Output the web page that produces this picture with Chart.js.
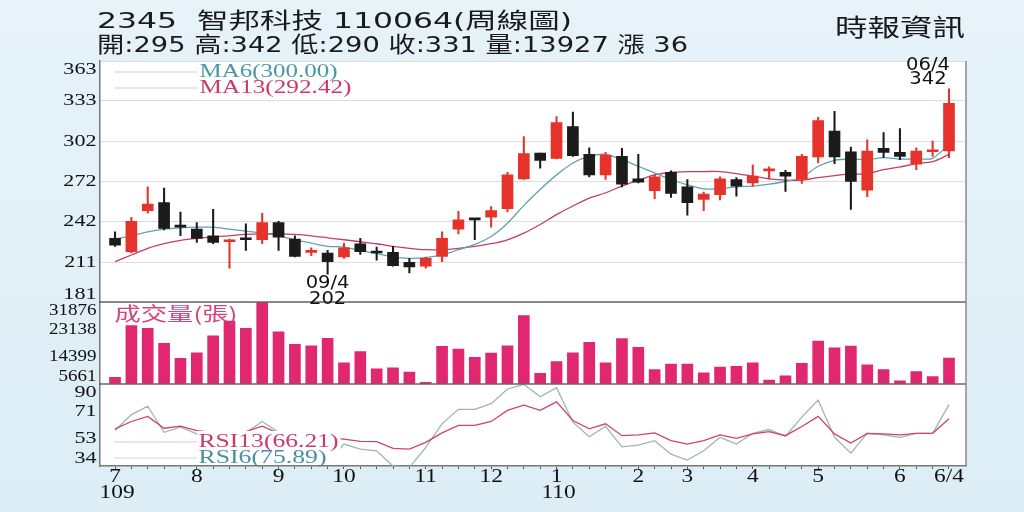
<!DOCTYPE html>
<html>
<head>
<meta charset="utf-8">
<script src="https://cdn.jsdelivr.net/npm/chart.js@4.4.1/dist/chart.umd.min.js"></script>
<style>
  html, body { margin: 0; padding: 0; background: #e3f0f7; }
  #wrap { width: 1024px; height: 512px; }
  canvas { display: block; }
</style>
</head>
<body>
<div id="wrap"><canvas id="kchart" width="1024" height="512"></canvas></div>
<script>
// weekly candles, 109/7 .. 110/6/4 (52 weeks)
const open  = [229, 219, 250, 256, 238, 236, 231, 226.5, 228.5, 228, 241, 228.5, 218.5, 218, 215, 225, 218.5, 218.5, 211, 208,
               215.5, 236, 243.5, 245, 251.5, 274, 293.5, 289.5, 313.5, 292.5, 277, 291, 274, 265, 279, 268, 258.5, 262, 273.5, 271,
               280, 279, 273.5, 290.5, 310, 294.5, 265.5, 297, 294, 285, 294.5, 295];
const high  = [234, 245, 268, 267, 249, 241, 251, 228.5, 240, 248, 242, 231, 222, 220, 225.5, 229, 222.5, 223, 214, 215,
               234, 249.5, 243.5, 253, 279, 306, 293.5, 321, 324.5, 297.5, 294, 297, 292.5, 277.5, 280, 273.5, 264, 275.5, 275, 284.5,
               283, 280.5, 292.5, 320.5, 325, 298, 303.5, 309, 312, 297.5, 302.5, 342];
const low   = [223, 218, 248, 235.5, 231, 226, 225, 206.5, 220, 225, 220, 215, 216, 202, 214, 217, 212.5, 208, 203, 206.5,
               211.5, 232.5, 228, 237.5, 249, 273.5, 282, 289, 291, 275.5, 273.5, 268, 271, 259, 260, 246.5, 250, 258, 261, 268.5,
               274, 264.5, 270.5, 286, 285.5, 251, 260.5, 290, 288.5, 281, 291, 290];
const close = [224, 242, 255, 236.5, 237.5, 229, 226, 228, 228, 241, 230, 215.5, 219, 211.5, 222, 219, 218, 208.5, 207.5, 214,
               229, 243, 243, 250, 277, 293, 288, 316.5, 291.5, 277, 292, 270, 271.5, 275.5, 263, 256, 262.5, 274, 268.5, 276,
               280.5, 276, 291, 318, 290.5, 272, 295, 294, 291, 295, 295, 331];
const volume = [7800, 24300, 23450, 18650, 13900, 15650, 21100, 25800, 23450, 31800, 22300, 18350, 17900, 20250, 12450, 16000, 10550, 10850, 9500, 6200,
                17700, 16850, 14200, 15550, 17900, 27500, 9100, 12800, 15650, 19000, 12450, 20150, 17400, 10250, 12050, 12050, 9250, 11100, 11300, 12450,
                6950, 8300, 12300, 19400, 17250, 17800, 11750, 10250, 6700, 9600, 8000, 13927];
const ma6   = [228.5, 231, 234, 236, 237, 237.5, 237.5, 236, 234.5, 233, 231, 228, 225.5, 223, 222.5, 220, 217.5, 215, 214, 214.5,
               216.5, 220.5, 224.5, 230.5, 240.5, 254, 266, 277, 286, 291, 292.5, 288.5, 283.5, 278.5, 273.5, 269.5, 266.5, 266.5, 268, 268.5,
               270, 272, 275, 283.5, 288, 289, 288.5, 290, 289, 289, 289.5, 300.00];
const ma13  = [211.5, 216.5, 221.5, 225, 227.5, 229, 230, 231, 232, 232.5, 232.5, 232, 231, 229.5, 228, 226.5, 225, 223, 221.5, 220.5,
               220.5, 221.5, 223, 225, 228, 233, 239.5, 247, 253.5, 259.5, 263.5, 268.5, 273, 277, 279, 279.5, 279.5, 279.5, 278, 276,
               274, 273, 273, 275, 276.5, 277.5, 278, 281, 283, 285.5, 287, 292.42];
const rsi13 = [59.4, 64.4, 67.9, 59.8, 61.2, 58.2, 57, 57.5, 57.5, 61.2, 56.3, 55, 54, 53.5, 52.4, 50.8, 50.6, 46, 45.5, 50.1,
               56.6, 61.7, 61.7, 64.4, 72, 75.5, 72, 77.8, 65.1, 59.4, 62.8, 54.7, 55.2, 56.6, 51.3, 49, 51.3, 55.2, 52.9, 55.9,
               57.5, 54.7, 61, 67.9, 55.9, 49.7, 56.3, 55.9, 55.2, 56.3, 56.3, 66.21];
const rsi6  = [58.2, 69.1, 74.8, 57, 60.5, 55.9, 53.6, 56.6, 56.6, 64.4, 57, 45, 38, 36.3, 49, 45.5, 44.4, 34, 33, 46.7,
               62.8, 72.7, 72.7, 76.6, 86.6, 89.8, 81.3, 87.5, 63.9, 54, 61, 47.1, 48.3, 51.3, 42.1, 38.1, 44.4, 53.6, 49, 56.3,
               58.9, 54.3, 67.4, 79, 53.6, 42.8, 56.3, 55.2, 53.6, 56.3, 56.3, 75.89];

const priceTicks  = [181, 211, 242, 272, 302, 333, 363];
const volumeTicks = [5661, 14399, 23138, 31876];
const rsiTicks    = [34, 53, 71, 90];

const monthWeeks  = [0, 5, 10, 14, 19, 23, 27, 32, 35, 39, 43, 48, 51];
const monthLabels = ["7", "8", "9", "10", "11", "12", "1", "2", "3", "4", "5", "6", "6/4"];
const yearWeeks   = [0, 27];
const yearLabels  = ["109", "110"];

const lowMark  = { week: 13, date: "09/4", value: 202 };
const highMark = { week: 51, date: "06/4", value: 342 };

const stockTitle = "2345  智邦科技 110064(周線圖)";
const sourceName = "時報資訊";

const RED = "#e5322a";
const BLACK = "#1b1b1b";
const TEAL = "#5fa3b0";
const CRIMSON = "#c73d68";
const VOL = "#e0276f";

const weeks = open.map((_, i) => i);
const last = weeks.length - 1;
const candleColors = weeks.map((i) => (close[i] >= open[i] ? RED : BLACK));

function txt(c, s, x, y, font, color, align, sx) {
  c.save();
  c.font = font;
  c.fillStyle = color;
  c.textAlign = align || "left";
  c.textBaseline = "middle";
  c.translate(x, y);
  c.scale(sx || 1, 1);
  c.fillText(s, 0, 0);
  c.restore();
}

function fitTxt(c, s, x, y, font, color, width) {
  c.save();
  c.font = font;
  const w = c.measureText(s).width;
  c.restore();
  txt(c, s, x, y, font, color, "left", width / w);
}

function hline(c, x1, x2, y, color, w) {
  c.save();
  c.strokeStyle = color;
  c.lineWidth = w || 1;
  c.beginPath();
  c.moveTo(x1, y);
  c.lineTo(x2, y);
  c.stroke();
  c.restore();
}

function axisLabels(c, scale, values, sx) {
  values.forEach((v) => {
    let y = scale.getPixelForValue(v);
    y = Math.max(scale.top + 8.5, Math.min(scale.bottom - 7.5, y));
    txt(c, String(v), scale.right - 3, y, '17px "Liberation Serif"', "#111", "right", sx);
  });
}

const decor = {
  id: "decor",
  beforeDraw(chart) {
    const c = chart.ctx;
    const a = chart.chartArea;
    c.save();
    const g = c.createLinearGradient(0, 0, 0, chart.height);
    g.addColorStop(0, "#e7f2f9");
    g.addColorStop(1, "#dcedf5");
    c.fillStyle = g;
    c.fillRect(0, 0, chart.width, chart.height);
    c.fillStyle = "#ffffff";
    c.fillRect(a.left, a.top, a.right - a.left, a.bottom - a.top);
    c.restore();
  },
  afterDatasetsDraw(chart) {
    const c = chart.ctx;
    const a = chart.chartArea;
    const s = chart.scales;
    const serif = '"Liberation Serif"';

    // panel borders
    hline(c, a.left, a.right, s.yP.bottom, "#666", 1.5);
    hline(c, a.left, a.right, s.yV.bottom, "#666", 1.5);
    c.save();
    c.strokeStyle = "#888";
    c.lineWidth = 1.5;
    c.beginPath();
    c.moveTo(a.right, a.top);
    c.lineTo(a.right, a.bottom);
    c.stroke();
    c.restore();

    // MA legend
    hline(c, a.left + 15, a.left + 98, a.top + 11, "#cfcfcf", 1);
    hline(c, a.left + 15, a.left + 98, a.top + 27, "#cfcfcf", 1);
    fitTxt(c, "MA6(" + ma6[last].toFixed(2) + ")", a.left + 100, a.top + 11, "19px " + serif, "#4a98a8", 138);
    fitTxt(c, "MA13(" + ma13[last].toFixed(2) + ")", a.left + 100, a.top + 27, "19px " + serif, "#cc3a68", 152);

    // volume caption
    fitTxt(c, "成交量(張)", a.left + 15, s.yV.top + 12, '19px "Noto Sans CJK TC"', "#d6447a", 123);

    // RSI legend, boxed over the lines
    c.save();
    c.fillStyle = "#ffffff";
    c.fillRect(a.left + 98, s.yR.bottom - 35, 143, 34);
    c.restore();
    hline(c, a.left + 15, a.left + 98, s.yR.bottom - 24, "#e8c4d0", 1);
    hline(c, a.left + 15, a.left + 98, s.yR.bottom - 8, "#d4d4d4", 1);
    fitTxt(c, "RSI13(" + rsi13[last].toFixed(2) + ")", a.left + 99, s.yR.bottom - 24, "19px " + serif, "#cc3a68", 140);
    fitTxt(c, "RSI6(" + rsi6[last].toFixed(2) + ")", a.left + 99, s.yR.bottom - 8, "19px " + serif, "#4a90a2", 128);

    // high / low marks
    const sans = '17px "DejaVu Sans"';
    const lx = s.x.getPixelForValue(lowMark.week);
    const ly = s.yP.getPixelForValue(lowMark.value);
    txt(c, lowMark.date, lx, ly + 9, sans, "#111", "center", 1.15);
    txt(c, String(lowMark.value), lx, ly + 25, sans, "#111", "center", 1.15);
    const hx = Math.min(s.x.getPixelForValue(highMark.week), a.right - 38);
    const hy = s.yP.getPixelForValue(highMark.value);
    txt(c, highMark.date, hx, hy - 23, sans, "#111", "center", 1.15);
    txt(c, String(highMark.value), hx, hy - 9, sans, "#111", "center", 1.15);

    // axis labels
    axisLabels(c, s.yP, priceTicks, 1.3);
    axisLabels(c, s.yV, volumeTicks, 1.12);
    axisLabels(c, s.yR, rsiTicks, 1.3);
    monthWeeks.forEach((w, k) => {
      txt(c, monthLabels[k], s.x.getPixelForValue(w), a.bottom + 11, "18px " + serif, "#111", "center", 1.3);
    });
    yearWeeks.forEach((w, k) => {
      txt(c, yearLabels[k], s.x.getPixelForValue(w) + 2, a.bottom + 27, "18px " + serif, "#111", "center", 1.3);
    });

    // header
    const head = '22px "DejaVu Sans", "Noto Sans CJK TC"';
    const quote = "開:" + open[last] + " 高:" + high[last] + " 低:" + low[last] + " 收:" + close[last] +
      " 量:" + volume[last] + " 漲 " + (close[last] - close[last - 1]);
    fitTxt(c, stockTitle, 97, 22, head, "#1a1a1a", 475);
    fitTxt(c, quote, 97, 46, head, "#1a1a1a", 591);
    fitTxt(c, sourceName, 835, 27, '24px "Noto Sans CJK TC"', "#1a1a1a", 130);
  },
};

const ctx = document.getElementById("kchart");

new Chart(ctx, {
  type: "bar",
  data: {
    datasets: [
      {
        type: "line",
        label: "MA6",
        data: weeks.map((i) => ({ x: i, y: ma6[i] })),
        yAxisID: "yP",
        borderColor: TEAL,
        borderWidth: 1.3,
        pointRadius: 0,
        tension: 0.25,
        order: 3,
      },
      {
        type: "line",
        label: "MA13",
        data: weeks.map((i) => ({ x: i, y: ma13[i] })),
        yAxisID: "yP",
        borderColor: CRIMSON,
        borderWidth: 1.3,
        pointRadius: 0,
        tension: 0.25,
        order: 3,
      },
      {
        label: "wick",
        data: weeks.map((i) => ({ x: i, y: [low[i], high[i]] })),
        yAxisID: "yP",
        backgroundColor: candleColors,
        barThickness: 1.4,
        grouped: false,
        order: 2,
      },
      {
        label: "body",
        data: weeks.map((i) => ({ x: i, y: [open[i], close[i]] })),
        yAxisID: "yP",
        backgroundColor: candleColors,
        barThickness: 11,
        minBarLength: 2,
        grouped: false,
        order: 1,
      },
      {
        label: "成交量",
        data: weeks.map((i) => ({ x: i, y: volume[i] })),
        yAxisID: "yV",
        backgroundColor: VOL,
        barThickness: 11,
        grouped: false,
        order: 1,
      },
      {
        type: "line",
        label: "RSI6",
        data: weeks.map((i) => ({ x: i, y: rsi6[i] })),
        yAxisID: "yR",
        borderColor: "#9db5b5",
        borderWidth: 1.3,
        pointRadius: 0,
        tension: 0,
        order: 2,
      },
      {
        type: "line",
        label: "RSI13",
        data: weeks.map((i) => ({ x: i, y: rsi13[i] })),
        yAxisID: "yR",
        borderColor: "#d0426f",
        borderWidth: 1.3,
        pointRadius: 0,
        tension: 0,
        order: 1,
      },
    ],
  },
  options: {
    responsive: false,
    animation: false,
    events: [],
    layout: { padding: { top: 61, right: 58, left: 0, bottom: 0 } },
    scales: {
      x: {
        type: "linear",
        min: -0.95,
        max: 52.04,
        offset: false,
        afterBuildTicks: (s) => { s.ticks = weeks.map((v) => ({ value: v })); },
        afterFit: (s) => { s.height = 46; },
        ticks: { display: false },
        grid: { drawOnChartArea: false, drawTicks: true, tickLength: 3, color: "#555", offset: false },
        border: { color: "#777", width: 1.5 },
      },
      yP: {
        type: "linear",
        position: "left",
        stack: "panels",
        stackWeight: 241,
        weight: 3,
        min: 181,
        max: 363,
        afterBuildTicks: (s) => { s.ticks = priceTicks.map((v) => ({ value: v })); },
        afterFit: (s) => { s.width = 99.5; },
        ticks: { display: false },
        grid: { color: "#dddddd", drawTicks: false },
        border: { color: "#777", width: 1.5 },
      },
      yV: {
        type: "linear",
        position: "left",
        stack: "panels",
        stackWeight: 82,
        weight: 2,
        min: 5661,
        max: 31876,
        afterBuildTicks: (s) => { s.ticks = volumeTicks.map((v) => ({ value: v })); },
        afterFit: (s) => { s.width = 99.5; },
        ticks: { display: false },
        grid: { display: false },
        border: { color: "#777", width: 1.5 },
      },
      yR: {
        type: "linear",
        position: "left",
        stack: "panels",
        stackWeight: 82,
        weight: 1,
        min: 34,
        max: 90,
        afterBuildTicks: (s) => { s.ticks = rsiTicks.map((v) => ({ value: v })); },
        afterFit: (s) => { s.width = 99.5; },
        ticks: { display: false },
        grid: { display: false },
        border: { color: "#777", width: 1.5 },
      },
    },
    plugins: {
      legend: { display: false },
      tooltip: { enabled: false },
    },
  },
  plugins: [decor],
});
</script>
</body>
</html>
